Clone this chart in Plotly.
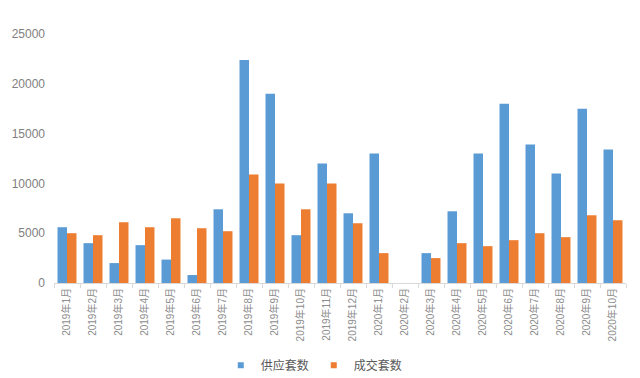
import plotly.graph_objects as go

categories = ["2019年1月","2019年2月","2019年3月","2019年4月","2019年5月","2019年6月",
              "2019年7月","2019年8月","2019年9月","2019年10月","2019年11月","2019年12月",
              "2020年1月","2020年2月","2020年3月","2020年4月","2020年5月","2020年6月",
              "2020年7月","2020年8月","2020年9月","2020年10月"]
supply = [5600, 4000, 2000, 3800, 2350, 800, 7400, 22400, 19000, 4800, 12000, 7000,
          13000, 0, 3000, 7200, 13000, 18000, 13900, 11000, 17500, 13400]
deals = [5000, 4800, 6100, 5600, 6500, 5500, 5200, 10900, 10000, 7400, 10000, 6000,
         3000, 0, 2500, 4000, 3700, 4300, 5000, 4600, 6800, 6300]
y_ticks = [0, 5000, 10000, 15000, 20000, 25000]
y_tick_labels = ["0", "5000", "10000", "15000", "20000", "25000"]
series_names = ["供应套数", "成交套数"]
colors = ["#5B9BD5", "#ED7D31"]

font_family = "Liberation Sans, Noto Sans CJK SC, sans-serif"

fig = go.Figure()
for name, vals, c in zip(series_names, [supply, deals], colors):
    fig.add_trace(go.Bar(x=categories, y=vals, name=name, showlegend=False,
                         marker=dict(color=c, line=dict(width=0))))
# legend-only entries with small square swatches
for name, c in zip(series_names, colors):
    fig.add_trace(go.Scatter(x=[None], y=[None], mode="markers", name=name,
                             marker=dict(symbol="square", size=6, color=c)))

fig.update_layout(
    width=640, height=378,
    margin=dict(l=46, r=22, t=26, b=103, autoexpand=False),
    plot_bgcolor="white", paper_bgcolor="white",
    barmode="group", bargap=0.27, bargroupgap=0,
    font=dict(family=font_family, color="#7F7F7F", size=12),
    showlegend=True,
    legend=dict(orientation="h", x=0.455, xanchor="center", y=-0.33, yanchor="middle",
                bgcolor="rgba(0,0,0,0)",
                font=dict(size=12, color="#595959"), itemwidth=30,
                tracegroupgap=0),
    xaxis=dict(tickangle=-90, tickfont=dict(size=10, color="#8C8C8C"),
               showline=True, linecolor="#D9D9D9", linewidth=1,
               ticks="outside", tickson="boundaries", tickcolor="#D9D9D9", ticklen=4,
               showgrid=False, automargin=False),
    yaxis=dict(range=[0, 25000], tickvals=y_ticks, ticktext=y_tick_labels,
               showgrid=False, zeroline=False, automargin=False,
               ticklabelstandoff=8,
               tickfont=dict(size=12, color="#808080")),
)

fig.write_html("out.html")
